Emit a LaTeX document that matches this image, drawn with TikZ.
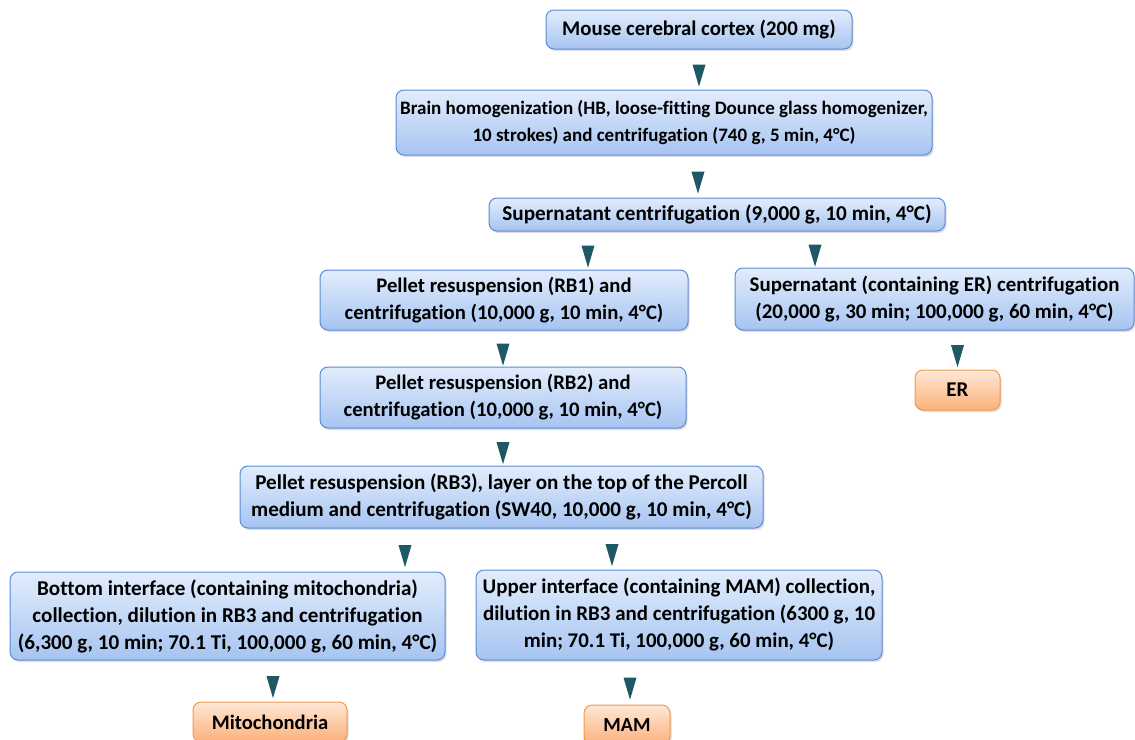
\documentclass[tikz,border=0pt]{standalone}
\usepackage{fontspec}
\setmainfont{Carlito}[Ligatures=NoCommon]
\usetikzlibrary{shapes.geometric,shadows}
\definecolor{boxline}{HTML}{5B8BD6}
\definecolor{boxtop}{HTML}{E2EDFC}
\definecolor{boxbot}{HTML}{A6C4F1}
\definecolor{endline}{HTML}{F39A4A}
\definecolor{endtop}{HTML}{FEE8D6}
\definecolor{endbot}{HTML}{FBB07A}
\definecolor{tricol}{HTML}{1E5864}
\begin{document}
\begin{tikzpicture}[x=1pt,y=-1pt,
    every node/.style={align=center, inner sep=0pt},
    txt/.style={font=\fontsize{#1}{27}\selectfont\bfseries},
    stepbox/.style={rectangle, rounded corners=8pt, draw=boxline, line width=1pt,
        top color=boxtop, bottom color=boxbot,
        drop shadow={opacity=0.25, shadow xshift=1.5pt, shadow yshift=-2pt}},
    endbox/.style={stepbox, draw=endline, top color=endtop, bottom color=endbot},
    tri/.style={isosceles triangle, isosceles triangle stretches, shape border rotate=270,
        fill=tricol, minimum width=13pt, minimum height=22pt}]
                \useasboundingbox (0,0) rectangle (1135,739);
                \clip (0,0) rectangle (1135,739);
                \node[stepbox, txt=20.8, minimum width=306pt, minimum height=39pt] (cortex) at (699,29.5) {Mouse cerebral cortex (200 mg)};
                \node[stepbox, txt=19, minimum width=536pt, minimum height=65pt] (homog) at (664,122.5) {Brain homogenization (HB, loose-fitting Dounce glass homogenizer,\\ 10 strokes) and centrifugation (740 g, 5 min, 4°C)};
                \node[stepbox, txt=21.2, minimum width=456pt, minimum height=33pt] (supc) at (717,214.5) {Supernatant centrifugation (9,000 g, 10 min, 4°C)};
                \node[stepbox, txt=20.7, minimum width=368pt, minimum height=60pt] (rbone) at (504,300) {Pellet resuspension (RB1) and\\ centrifugation (10,000 g, 10 min, 4°C)};
                \node[stepbox, txt=20.9, minimum width=399pt, minimum height=62pt] (ersup) at (934.5,299) {Supernatant (containing ER) centrifugation\\ (20,000 g, 30 min; 100,000 g, 60 min, 4°C)};
                \node[endbox, txt=21, minimum width=85pt, minimum height=40pt] (er) at (957.5,390) {ER};
                \node[stepbox, txt=20.7, minimum width=366pt, minimum height=61pt] (rbtwo) at (503,397.5) {Pellet resuspension (RB2) and\\ centrifugation (10,000 g, 10 min, 4°C)};
                \node[stepbox, txt=21.1, minimum width=523pt, minimum height=62pt] (rbthree) at (501.5,497) {Pellet resuspension (RB3), layer on the top of the Percoll\\ medium and centrifugation (SW40, 10,000 g, 10 min, 4°C)};
                \node[stepbox, txt=21.1, minimum width=435pt, minimum height=88pt] (bottom) at (227.5,616) {Bottom interface (containing mitochondria)\\ collection, dilution in RB3 and centrifugation\\ (6,300 g, 10 min; 70.1 Ti, 100,000 g, 60 min, 4°C)};
                \node[stepbox, txt=20.9, minimum width=406pt, minimum height=90pt] (upper) at (679,615) {Upper interface (containing MAM) collection,\\ dilution in RB3 and centrifugation (6300 g, 10\\ min; 70.1 Ti, 100,000 g, 60 min, 4°C)};
                \node[endbox, txt=20.6, minimum width=154pt, minimum height=40pt] (mito) at (270,722) {Mitochondria};
                \node[endbox, txt=20, minimum width=86pt, minimum height=40pt] (mam) at (627,725) {MAM};

                \path (cortex.south) -- (homog.north -| cortex.south) node[midway,tri] {};
                \path ([xshift=34pt]homog.south) -- ([xshift=34pt]homog.south |- supc.north) node[midway,tri] {};
                \path ([xshift=-129pt]supc.south) -- ([xshift=-129pt]supc.south |- rbone.north) node[midway,tri] {};
                \path ([xshift=98pt]supc.south) -- ([xshift=98pt]supc.south |- ersup.north) node[midway,tri] {};
                \path (er.north |- ersup.south) -- (er.north) node[midway,tri] {};
                \path (rbtwo.north |- rbone.south) -- (rbtwo.north) node[midway,tri] {};
                \path (rbtwo.south) -- (rbtwo.south |- rbthree.north) node[midway,tri] {};
                \path ([xshift=-96.5pt]rbthree.south) -- ([xshift=-96.5pt]rbthree.south |- bottom.north) node[midway,tri] {};
                \path ([xshift=110.5pt]rbthree.south) -- ([xshift=110.5pt]rbthree.south |- upper.north) node[midway,tri] {};
                \path ([xshift=3pt]mito.north |- bottom.south) -- ([xshift=3pt]mito.north) node[midway,tri] {};
                \path ([xshift=3pt]mam.north |- upper.south) -- ([xshift=3pt]mam.north) node[midway,tri] {};
            \end{tikzpicture}
\end{document}
